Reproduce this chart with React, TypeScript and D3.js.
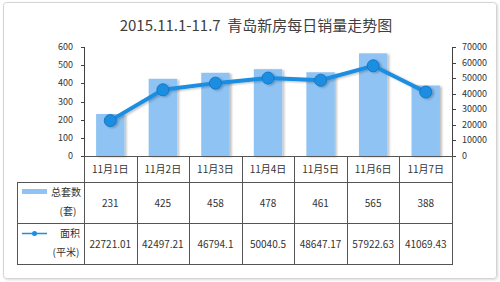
import React from "react";
import * as d3 from "d3";

const categories = ["11月1日", "11月2日", "11月3日", "11月4日", "11月5日", "11月6日", "11月7日"];
const totalUnits = [231, 425, 458, 478, 461, 565, 388];
const areaValues = [22721.01, 42497.21, 46794.1, 50040.5, 48647.17, 57922.63, 41069.43];
const areaLabels = ["22721.01", "42497.21", "46794.1", "50040.5", "48647.17", "57922.63", "41069.43"];
const leftTicks = [0, 100, 200, 300, 400, 500, 600];
const rightTicks = [0, 10000, 20000, 30000, 40000, 50000, 60000, 70000];
const title = "2015.11.1-11.7  青岛新房每日销量走势图";
const seriesNames = [["总套数", "(套)"], ["面积", "(平米)"]];

const W = 500;
const H = 282;
const plotLeft = 84;
const plotRight = 452;
const plotTop = 47;
const plotBottom = 156;
const tableLeft = 17;
const rowBounds = [156, 182, 223, 264];

const BAR = "#8FC3F3";
const LINE = "#1C8EE2";
const AXIS = "#404040";
const TEXT = "#333333";
const FONT = "'Noto Sans CJK SC', 'Noto Sans', sans-serif";

export default function App() {
  const x = d3.scaleBand<string>().domain(categories).range([plotLeft, plotRight]).paddingInner(0).paddingOuter(0);
  const yL = d3.scaleLinear().domain([0, 600]).range([plotBottom, plotTop]);
  const yR = d3.scaleLinear().domain([0, 70000]).range([plotBottom, plotTop]);
  const bw = x.bandwidth();
  const barW = bw * 0.54;
  const cx = (c: string) => (x(c) as number) + bw / 2;
  const line = d3.line<number>().x((_, i) => cx(categories[i])).y((v) => yR(v));

  const rowMid = (r: number) => (rowBounds[r] + rowBounds[r + 1]) / 2;

  return (
    <svg width={W} height={H} style={{ position: "absolute", left: 0, top: 0, display: "block" }} fontFamily={FONT}>
      <defs>
        <filter id="shadow" x="-20%" y="-20%" width="150%" height="150%">
          <feDropShadow dx="2" dy="1" stdDeviation="1.2" floodColor="#000" floodOpacity="0.25" />
        </filter>
        <filter id="boxshadow" x="-5%" y="-5%" width="110%" height="110%">
          <feDropShadow dx="1" dy="1" stdDeviation="1" floodColor="#000" floodOpacity="0.15" />
        </filter>
      </defs>
      <rect x={0} y={0} width={W} height={H} fill="#fff" />
      <rect x={3.5} y={2.5} width={493} height={276} rx={3} fill="#fff" stroke="#d4d4d4" filter="url(#boxshadow)" />

      <text x={256} y={31} textAnchor="middle" fontSize={15} fill="#404040" style={{ whiteSpace: "pre" }}>{title}</text>

      {/* bars */}
      {categories.map((c, i) => (
        <rect key={c} x={cx(c) - barW / 2} y={yL(totalUnits[i])} width={barW} height={plotBottom - yL(totalUnits[i])} fill={BAR} filter="url(#shadow)" />
      ))}

      {/* line */}
      <g filter="url(#shadow)">
        <path d={line(areaValues) || ""} fill="none" stroke={LINE} strokeWidth={4} strokeLinejoin="round" />
        {areaValues.map((v, i) => (
          <circle key={i} cx={cx(categories[i])} cy={yR(v)} r={6} fill={LINE} stroke="#1677c4" strokeWidth={1} />
        ))}
      </g>

      {/* left axis */}
      <line x1={plotLeft + 0.5} x2={plotLeft + 0.5} y1={plotTop} y2={plotBottom} stroke={AXIS} />
      {leftTicks.map((t) => (
        <g key={t}>
          <line x1={plotLeft - 3} x2={plotLeft} y1={Math.round(yL(t)) + 0.5} y2={Math.round(yL(t)) + 0.5} stroke={AXIS} />
          <text x={73} y={yL(t) + 3} textAnchor="end" fontSize={9} fill={TEXT}>{t}</text>
        </g>
      ))}

      {/* right axis */}
      <line x1={plotRight + 0.5} x2={plotRight + 0.5} y1={plotTop} y2={plotBottom} stroke={AXIS} />
      {rightTicks.map((t) => (
        <g key={t}>
          <line x1={plotRight} x2={plotRight + 4} y1={Math.round(yR(t)) + 0.5} y2={Math.round(yR(t)) + 0.5} stroke={AXIS} />
          <text x={462} y={yR(t) + 3} textAnchor="start" fontSize={9} fill={TEXT}>{t}</text>
        </g>
      ))}

      {/* table */}
      <g stroke="#555" strokeWidth={1} fill="none">
        {categories.map((c) => (
          <line key={"v" + c} x1={Math.round(x(c) as number) + 0.5} x2={Math.round(x(c) as number) + 0.5} y1={rowBounds[0]} y2={rowBounds[3]} />
        ))}
        <line x1={plotRight + 0.5} x2={plotRight + 0.5} y1={rowBounds[0]} y2={rowBounds[3]} />
        <line x1={tableLeft + 0.5} x2={tableLeft + 0.5} y1={rowBounds[1]} y2={rowBounds[3]} />
        <line x1={plotLeft} x2={plotRight + 1} y1={rowBounds[0] + 0.5} y2={rowBounds[0] + 0.5} />
        <line x1={tableLeft} x2={plotRight + 1} y1={rowBounds[1] + 0.5} y2={rowBounds[1] + 0.5} />
        <line x1={tableLeft} x2={plotRight + 1} y1={rowBounds[2] + 0.5} y2={rowBounds[2] + 0.5} />
        <line x1={tableLeft} x2={plotRight + 1} y1={rowBounds[3] + 0.5} y2={rowBounds[3] + 0.5} />
      </g>

      {categories.map((c, i) => (
        <g key={"t" + c} fontSize={10} fill={TEXT} textAnchor="middle">
          <text x={cx(c)} y={rowMid(0) + 4}>{c}</text>
          <text x={cx(c)} y={rowMid(1) + 4}>{totalUnits[i]}</text>
          <text x={cx(c)} y={rowMid(2) + 4}>{areaLabels[i]}</text>
        </g>
      ))}

      {/* legend cells */}
      <rect x={22} y={189} width={25} height={5} fill={BAR} />
      <text x={81} y={196} textAnchor="end" fontSize={10} fill={TEXT}>{seriesNames[0][0]}</text>
      <text x={68} y={215} textAnchor="middle" fontSize={10} fill={TEXT}>{seriesNames[0][1]}</text>
      <line x1={22} x2={47} y1={233.5} y2={233.5} stroke={LINE} strokeWidth={1.5} />
      <circle cx={34.5} cy={233.5} r={2.5} fill={LINE} />
      <text x={70} y={237} textAnchor="middle" fontSize={10} fill={TEXT}>{seriesNames[1][0]}</text>
      <text x={66} y={256} textAnchor="middle" fontSize={10} fill={TEXT}>{seriesNames[1][1]}</text>
    </svg>
  );
}
